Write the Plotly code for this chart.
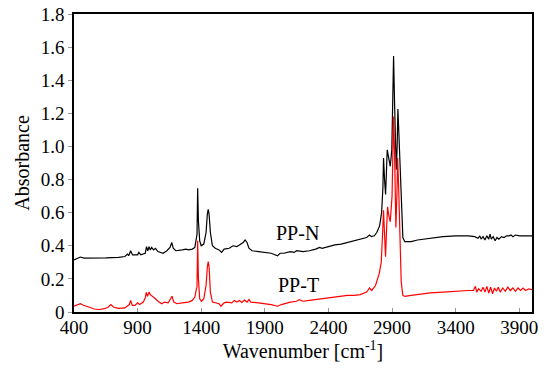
import plotly.graph_objects as go

# PP-N spectrum (black)
ppn_wn = [400, 420, 450, 480, 550, 650, 750, 800, 820, 830, 845, 860, 900, 910, 925, 960, 970, 980, 990, 1000,
          1010, 1025, 1040, 1060, 1100, 1130, 1155, 1168, 1180, 1200, 1250, 1280, 1300, 1330, 1350, 1362, 1367,
          1372, 1378, 1388, 1400, 1420, 1438, 1448, 1455, 1462, 1472, 1488, 1510, 1540, 1560, 1580, 1620, 1650,
          1680, 1700, 1720, 1730, 1745, 1760, 1775, 1800, 1850, 1900, 1950, 2000, 2020, 2050, 2100, 2130, 2150,
          2200, 2250, 2300, 2330, 2350, 2400, 2450, 2500, 2550, 2600, 2650, 2700, 2723, 2738, 2760, 2780, 2802,
          2818, 2828, 2833, 2841, 2849, 2856, 2862, 2874, 2886, 2898, 2906, 2912, 2920, 2933, 2940, 2946, 2955,
          2964, 2975, 2985, 3000, 3050, 3100, 3200, 3300, 3400, 3500, 3550, 3575, 3590, 3600, 3615, 3630, 3645,
          3660, 3670, 3680, 3695, 3710, 3725, 3740, 3760, 3780, 3800, 3820, 3835, 3850, 3870, 3900, 3950, 4000]
ppn_abs = [0.315, 0.32, 0.332, 0.325, 0.325, 0.327, 0.33, 0.335, 0.35, 0.34, 0.37, 0.345, 0.345, 0.36, 0.345,
           0.355, 0.395, 0.37, 0.395, 0.375, 0.39, 0.375, 0.385, 0.365, 0.355, 0.37, 0.39, 0.42, 0.385, 0.37,
           0.375, 0.38, 0.375, 0.38, 0.39, 0.45, 0.47, 0.747, 0.55, 0.43, 0.40, 0.41, 0.48, 0.59, 0.62, 0.59,
           0.48, 0.40, 0.385, 0.375, 0.36, 0.38, 0.385, 0.40, 0.395, 0.405, 0.415, 0.42, 0.435, 0.42, 0.385,
           0.37, 0.365, 0.36, 0.355, 0.34, 0.355, 0.355, 0.365, 0.36, 0.37, 0.365, 0.37, 0.38, 0.39, 0.385,
           0.395, 0.405, 0.41, 0.42, 0.43, 0.44, 0.45, 0.465, 0.455, 0.46, 0.48, 0.52, 0.6, 0.75, 0.93, 0.8,
           0.71, 0.85, 0.98, 0.93, 0.88, 0.98, 1.3, 1.546, 1.25, 0.86, 1.0, 1.226, 1.05, 0.84, 0.6, 0.45, 0.425,
           0.425, 0.435, 0.445, 0.455, 0.46, 0.46, 0.455, 0.445, 0.46, 0.44, 0.455, 0.435, 0.46, 0.44, 0.47,
           0.44, 0.455, 0.43, 0.45, 0.44, 0.455, 0.45, 0.46, 0.46, 0.465, 0.455, 0.465, 0.46, 0.46, 0.46]

# PP-T spectrum (red)
ppt_wn = [400, 430, 450, 470, 500, 530, 560, 600, 640, 670, 690, 710, 750, 800, 820, 835, 845, 858, 880, 900,
          915, 945, 960, 968, 978, 990, 1000, 1020, 1040, 1060, 1090, 1110, 1140, 1160, 1170, 1185, 1210, 1250,
          1280, 1300, 1330, 1350, 1362, 1367, 1372, 1378, 1388, 1402, 1420, 1438, 1448, 1455, 1462, 1472, 1488,
          1510, 1540, 1555, 1580, 1600, 1640, 1660, 1680, 1700, 1720, 1740, 1760, 1775, 1790, 1850, 1900, 1950,
          2000, 2030, 2100, 2150, 2170, 2200, 2250, 2300, 2350, 2400, 2450, 2500, 2550, 2600, 2650, 2700, 2723,
          2740, 2770, 2800, 2815, 2826, 2833, 2842, 2849, 2857, 2865, 2875, 2886, 2900, 2907, 2912, 2920, 2930,
          2938, 2944, 2952, 2962, 2972, 2985, 3000, 3050, 3100, 3200, 3300, 3400, 3500, 3540, 3555, 3565, 3580,
          3600, 3615, 3630, 3645, 3660, 3675, 3690, 3705, 3720, 3735, 3750, 3770, 3790, 3810, 3830, 3850, 3870,
          3890, 3910, 3930, 3950, 3975, 4000]
ppt_abs = [0.035, 0.045, 0.05, 0.042, 0.035, 0.025, 0.018, 0.015, 0.02, 0.03, 0.045, 0.03, 0.022, 0.025, 0.04,
           0.045, 0.07, 0.04, 0.04, 0.055, 0.045, 0.06, 0.085, 0.118, 0.095, 0.12, 0.105, 0.095, 0.08, 0.065,
           0.05, 0.06, 0.055, 0.08, 0.095, 0.06, 0.05, 0.055, 0.06, 0.06, 0.07, 0.09, 0.14, 0.15, 0.43, 0.2,
           0.08, 0.065, 0.08, 0.16, 0.27, 0.304, 0.27, 0.12, 0.06, 0.055, 0.05, 0.035, 0.055, 0.06, 0.055, 0.07,
           0.06, 0.07, 0.058, 0.072, 0.06, 0.075, 0.06, 0.055, 0.05, 0.045, 0.035, 0.045, 0.06, 0.065, 0.075,
           0.065, 0.07, 0.075, 0.08, 0.085, 0.09, 0.095, 0.1, 0.1, 0.105, 0.12, 0.145, 0.13, 0.16, 0.235, 0.3,
           0.48, 0.615, 0.45, 0.334, 0.5, 0.636, 0.58, 0.545, 0.7, 1.0, 1.18, 0.95, 0.51, 0.7, 0.93, 0.75, 0.4,
           0.18, 0.1, 0.095, 0.1, 0.105, 0.115, 0.12, 0.127, 0.13, 0.13, 0.155, 0.12, 0.14, 0.125, 0.15, 0.12,
           0.155, 0.115, 0.15, 0.11, 0.145, 0.125, 0.15, 0.12, 0.145, 0.125, 0.15, 0.13, 0.145, 0.125, 0.145,
           0.13, 0.145, 0.13, 0.14, 0.135]

x_ticks = [400, 900, 1400, 1900, 2400, 2900, 3400, 3900]
y_ticks = [0, 0.2, 0.4, 0.6, 0.8, 1.0, 1.2, 1.4, 1.6, 1.8]
y_tick_text = ["0", "0.2", "0.4", "0.6", "0.8", "1.0", "1.2", "1.4", "1.6", "1.8"]

font = "Times New Roman, Liberation Serif, serif"

fig = go.Figure()
fig.add_trace(go.Scatter(x=ppn_wn, y=ppn_abs, mode="lines", line=dict(color="black", width=1.2),
                         name="PP-N", showlegend=False))
fig.add_trace(go.Scatter(x=ppt_wn, y=ppt_abs, mode="lines", line=dict(color="#ff0000", width=1.2),
                         name="PP-T", showlegend=False))

fig.add_annotation(x=2160, y=0.477, xref="x", yref="y", text="PP-N", showarrow=False,
                   font=dict(family=font, size=20, color="black"))
fig.add_annotation(x=2166, y=0.163, xref="x", yref="y", text="PP-T", showarrow=False,
                   font=dict(family=font, size=20, color="black"))

# The page body adds an 8 px offset, so the figure is 8 px smaller and the margins compensate.
fig.update_layout(
    width=542, height=360,
    margin=dict(l=66, r=18, t=6, b=56, autoexpand=False),
    plot_bgcolor="white", paper_bgcolor="white",
    font=dict(family=font, size=19, color="black"),
    xaxis=dict(range=[400, 4000], tickvals=x_ticks, ticks="inside", ticklen=4, tickcolor="#999999",
               showline=True, linecolor="black", linewidth=1.6, mirror=True, showgrid=False, zeroline=False,
               automargin=False, ticklabeloverflow="allow", ticklabelstandoff=-3,
               title=dict(text="Wavenumber [cm<sup>-1</sup>]", font=dict(family=font, size=20), standoff=6),
               tickfont=dict(family=font, size=19)),
    yaxis=dict(range=[0, 1.8], tickvals=y_ticks, ticktext=y_tick_text, ticks="outside", ticklen=4,
               tickcolor="#999999", showline=True, linecolor="black", linewidth=1.6, mirror=True,
               showgrid=False, zeroline=False, automargin=False, ticklabeloverflow="allow",
               title=dict(text="Absorbance", font=dict(family=font, size=20), standoff=6),
               tickfont=dict(family=font, size=19)),
)

fig.write_html("out.html")
